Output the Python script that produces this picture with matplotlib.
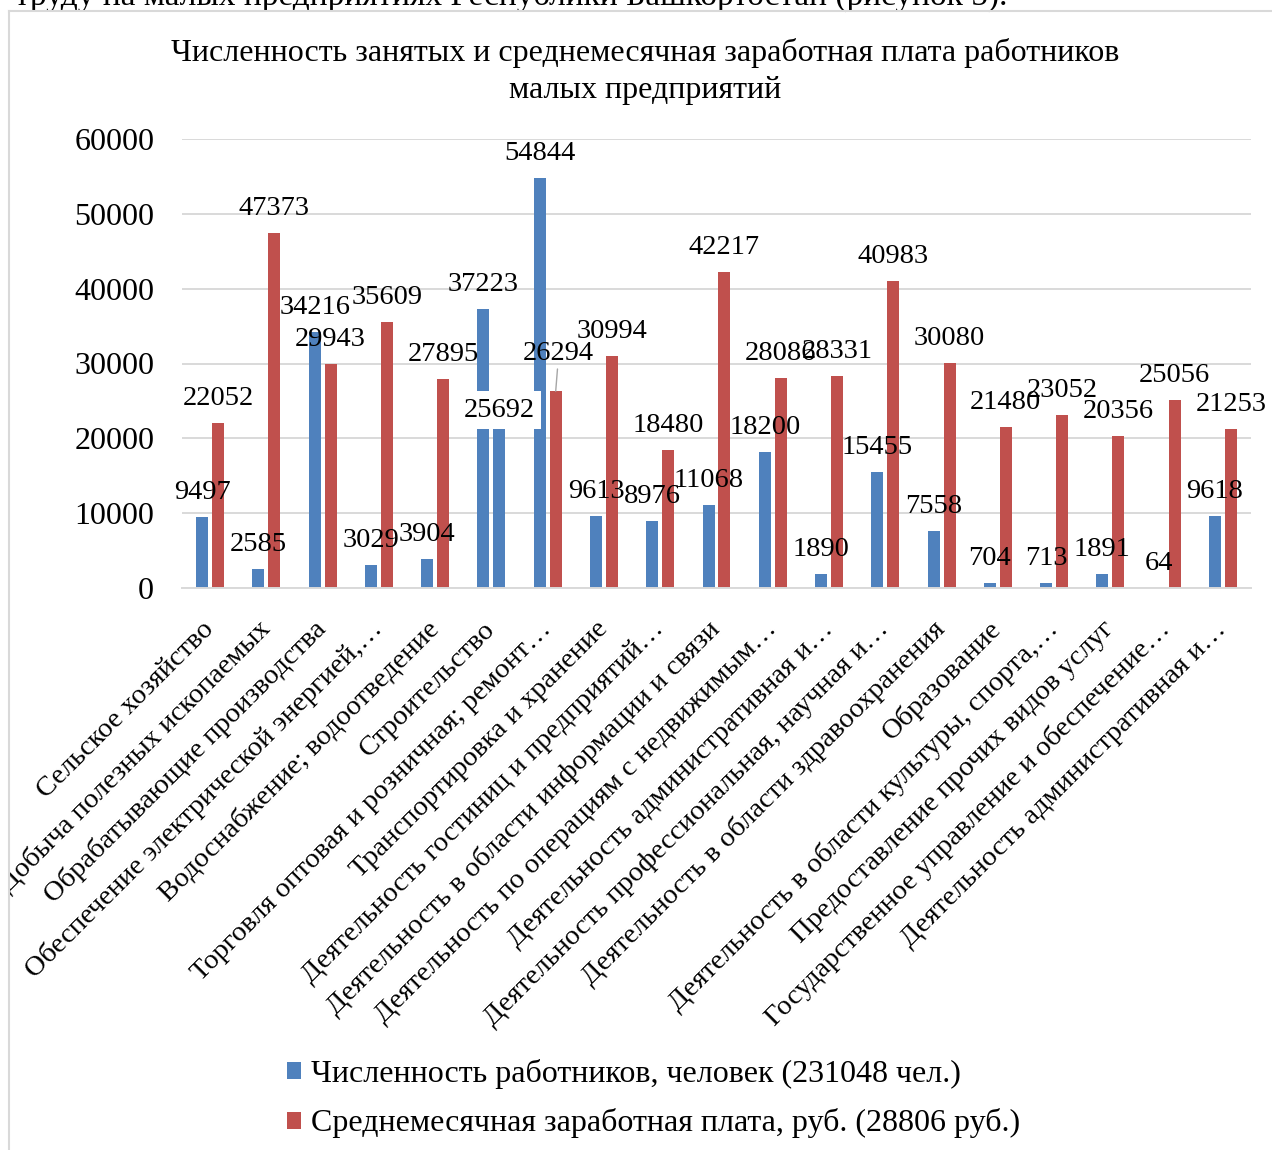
import matplotlib
matplotlib.use("Agg")
import matplotlib.pyplot as plt
from matplotlib.patches import Rectangle
from matplotlib.lines import Line2D
import numpy as np

plt.rcParams['font.family'] = ['Liberation Serif', 'DejaVu Serif']

categories = [
    "Сельское хозяйство",
    "Добыча полезных ископаемых",
    "Обрабатывающие производства",
    "Обеспечение электрической энергией,…",
    "Водоснабжение; водоотведение",
    "Строительство",
    "Торговля оптовая и розничная; ремонт…",
    "Транспортировка и хранение",
    "Деятельность гостиниц и предприятий…",
    "Деятельность в области информации и связи",
    "Деятельность по операциям с недвижимым…",
    "Деятельность административная и…",
    "Деятельность профессиональная, научная и…",
    "Деятельность в области здравоохранения",
    "Образование",
    "Деятельность в области культуры, спорта,…",
    "Предоставление прочих видов услуг",
    "Государственное управление и обеспечение…",
    "Деятельность административная и…",
]
workers = [9497, 2585, 34216, 3029, 3904, 37223, 54844, 9613, 8976, 11068,
           18200, 1890, 15455, 7558, 704, 713, 1891, 64, 9618]
salary = [22052, 47373, 29943, 35609, 27895, 25692, 26294, 30994, 18480, 42217,
          28086, 28331, 40983, 30080, 21480, 23052, 20356, 25056, 21253]
legend_labels = ["Численность работников, человек (231048 чел.)",
                 "Среднемесячная заработная плата, руб. (28806 руб.)"]
title_lines = ["Численность занятых и среднемесячная заработная плата работников",
               "малых предприятий"]
doc_text = "труду на малых предприятиях Республики Башкортостан (рисунок 5)."
yticks = [0, 10000, 20000, 30000, 40000, 50000, 60000]

BLUE = '#4F81BD'
RED = '#C0504D'
GRID = '#D9D9D9'

W, H = 1272, 1150
fig = plt.figure(figsize=(W / 100, H / 100), dpi=100)
fig.patch.set_facecolor('white')

def fx(px):
    return px / W

def fy(py):
    return 1 - py / H

ax = fig.add_axes([fx(182), fy(588), fx(1251) - fx(182), fy(139) - fy(588)])
x = np.arange(len(categories))
bw = 0.213
off = 0.142

salary_colors = [RED] * len(salary)
salary_colors[5] = BLUE  # as in the reference, this point is drawn blue

b1 = ax.bar(x - off, workers, bw, color=BLUE, label=legend_labels[0], zorder=2)
b2 = ax.bar(x + off, salary, bw, color=salary_colors, label=legend_labels[1], zorder=2)

ax.set_xlim(-0.5, len(categories) - 0.5)
ax.set_ylim(0, 60000)
ax.set_yticks(yticks)
ax.set_yticklabels([str(v) for v in yticks])
ax.yaxis.grid(True, color=GRID, lw=1.4, zorder=0)
ax.set_axisbelow(True)
for s in ['top', 'right', 'left']:
    ax.spines[s].set_visible(False)
ax.spines['bottom'].set_color(GRID)
ax.spines['bottom'].set_linewidth(1.4)
ax.tick_params(axis='y', length=0, pad=20, labelsize=23)
ax.tick_params(axis='x', length=0, pad=27, labelsize=20.5)
ax.set_xticks(x)
ax.set_xticklabels(categories, rotation=45, ha='right', va='center',
                   rotation_mode='anchor')

LBL = 20.5
# data labels
for i, v in enumerate(workers):
    ax.annotate(str(v), (x[i] - off, v), xytext=(0, 18), textcoords='offset pixels',
                ha='center', va='baseline', fontsize=LBL, zorder=5)
for i, v in enumerate(salary):
    if i == 5:
        ax.annotate(str(v), (x[i] + off, v), xytext=(0, -21), textcoords='offset pixels',
                    ha='center', va='baseline', fontsize=LBL, zorder=6,
                    bbox=dict(boxstyle='square,pad=0.22', fc='white', ec='none'))
    elif i == 6:
        ax.annotate(str(v), (x[i] + off, v), xytext=(3, 31), textcoords='offset pixels',
                    ha='center', va='baseline', fontsize=LBL, zorder=5,
                    arrowprops=dict(arrowstyle='-', color='#A6A6A6', lw=1.0,
                                    shrinkA=0, shrinkB=0))
    else:
        ax.annotate(str(v), (x[i] + off, v), xytext=(0, 18), textcoords='offset pixels',
                    ha='center', va='baseline', fontsize=LBL, zorder=5)

# title
fig.text(fx(645), fy(61), title_lines[0], ha='center', va='baseline', fontsize=23)
fig.text(fx(645), fy(98), title_lines[1], ha='center', va='baseline', fontsize=23)

# document text line cut at top
fig.text(fx(15), fy(5), doc_text, ha='left', va='baseline', fontsize=24)

# legend
leg = fig.legend(handles=[b1, b2], labels=legend_labels, loc='upper left',
                 bbox_to_anchor=(fx(287), fy(1059)), frameon=False, fontsize=23,
                 handlelength=0.44, handleheight=0.44, handletextpad=0.3,
                 labelspacing=0.61, borderaxespad=0, borderpad=0)

# chart border and clipping cover at the left
fig.patches.append(Rectangle((0, 0), fx(9), fy(11), transform=fig.transFigure,
                             facecolor='white', edgecolor='none', zorder=20))
fig.lines.append(Line2D([fx(9), fx(9)], [0, fy(11)], transform=fig.transFigure,
                        color=GRID, lw=1.5, zorder=21))
fig.lines.append(Line2D([fx(9), 1], [fy(11), fy(11)], transform=fig.transFigure,
                        color=GRID, lw=1.5, zorder=21))

fig.savefig('out.png', dpi=100)
